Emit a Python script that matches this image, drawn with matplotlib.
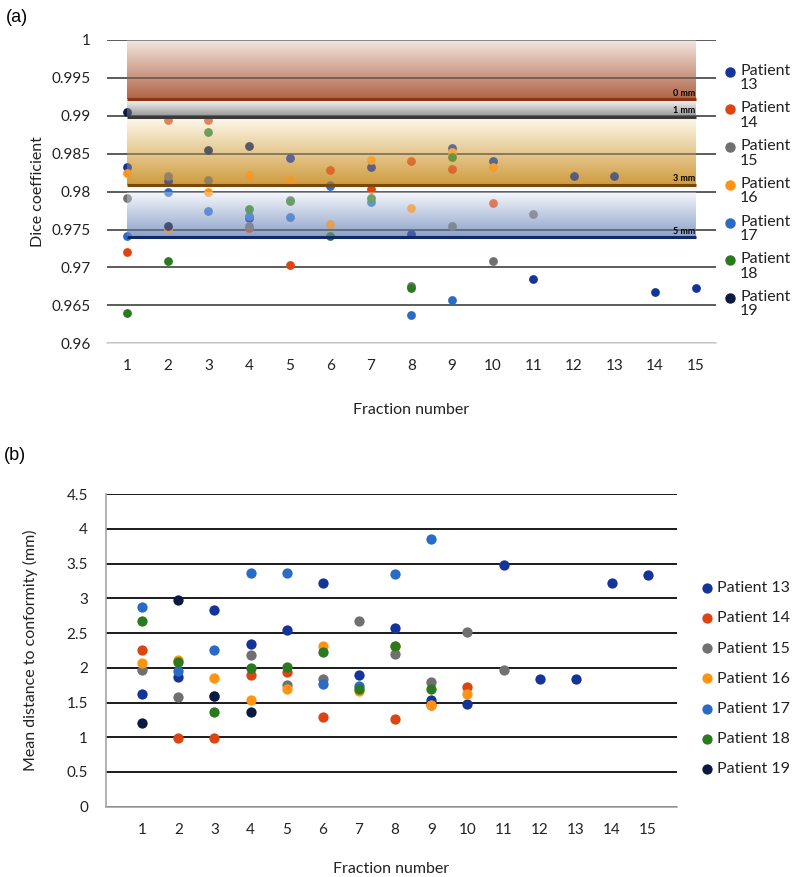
import numpy as np
import matplotlib.pyplot as plt
from matplotlib.colors import to_rgb

plt.rcParams['font.family'] = ['Lato', 'DejaVu Sans']

nan = np.nan
fractions = np.arange(1, 16)
patients = ['13', '14', '15', '16', '17', '18', '19']
colors = ['#15349a', '#dc4512', '#707070', '#ff9412', '#2a6bc6', '#2b7a1f', '#0b1a45']

# (a) Dice coefficient per fraction
dice_13 = [0.9832, 0.9814, nan, 0.9765, 0.9845, nan, 0.9833, 0.9744, 0.9857, 0.9840, 0.9685, 0.9821, 0.9821, 0.9667, 0.9673]
dice_14 = [0.9720, 0.9895, 0.9895, 0.9752, 0.9703, 0.9828, 0.9803, 0.9840, 0.9830, 0.9785, nan, nan, nan, nan, nan]
dice_15 = [0.9792, 0.9820, 0.9815, 0.9755, 0.9789, 0.9809, nan, 0.9675, 0.9755, 0.9709, 0.9770, nan, nan, nan, nan]
dice_16 = [0.9824, 0.9751, 0.9800, 0.9822, 0.9815, 0.9757, 0.9842, 0.9779, 0.9852, 0.9833, nan, nan, nan, nan, nan]
dice_17 = [0.9741, 0.9800, 0.9774, 0.9768, 0.9767, 0.9807, 0.9786, 0.9637, 0.9657, nan, nan, nan, nan, nan, nan]
dice_18 = [0.9640, 0.9709, 0.9879, 0.9777, 0.9787, 0.9741, 0.9791, 0.9673, 0.9846, nan, nan, nan, nan, nan, nan]
dice_19 = [0.9905, 0.9755, 0.9855, 0.9860, nan, nan, nan, nan, nan, nan, nan, nan, nan, nan, nan]
dice = [dice_13, dice_14, dice_15, dice_16, dice_17, dice_18, dice_19]

# (b) mean distance to conformity (mm)
dist_13 = [1.62, 1.87, 2.83, 2.34, 2.55, 3.22, 1.90, 2.57, 1.54, 1.48, 3.48, 1.84, 1.84, 3.22, 3.34]
dist_14 = [2.25, 0.99, 0.99, 1.90, 1.94, 1.29, nan, 1.26, 1.47, 1.72, nan, nan, nan, nan, nan]
dist_15 = [1.97, 1.58, 1.60, 2.19, 1.75, 1.84, 2.68, 2.20, 1.79, 2.52, 1.97, nan, nan, nan, nan]
dist_16 = [2.07, 2.11, 1.85, 1.54, 1.69, 2.32, 1.67, 2.32, 1.46, 1.63, nan, nan, nan, nan, nan]
dist_17 = [2.87, 1.95, 2.25, 3.37, 3.37, 1.77, 1.74, 3.35, 3.85, nan, nan, nan, nan, nan, nan]
dist_18 = [2.68, 2.08, 1.37, 2.00, 2.01, 2.23, 1.69, 2.31, 1.70, nan, nan, nan, nan, nan, nan]
dist_19 = [1.21, 2.98, 1.59, 1.37, nan, nan, nan, nan, nan, nan, nan, nan, nan, nan, nan]
dist = [dist_13, dist_14, dist_15, dist_16, dist_17, dist_18, dist_19]

# tolerance bands drawn on (a)
band_names = ['0 mm', '1 mm', '3 mm', '5 mm']
band_top = [1.0, 0.9921, 0.9897, 0.9799]
band_bottom = [0.9922, 0.9899, 0.9809, 0.9740]
band_light = ['#f4e8e2', '#f6f6f6', '#fdf8ea', '#f5f7fb']
band_dark = ['#b06548', '#929292', '#d09c3e', '#8ca1ca']
band_line = ['#8a3414', '#3a3a3a', '#7a4808', '#0f2a66']

dice_ticks = [0.96, 0.965, 0.97, 0.975, 0.98, 0.985, 0.99, 0.995, 1.0]
dice_labels = ['0.96', '0.965', '0.97', '0.975', '0.98', '0.985', '0.99', '0.995', '1']
dist_ticks = [0, 0.5, 1, 1.5, 2, 2.5, 3, 3.5, 4, 4.5]
dist_labels = ['0', '0.5', '1', '1.5', '2', '2.5', '3', '3.5', '4', '4.5']

text_col = '#222222'

fig = plt.figure(figsize=(7.96, 8.77), dpi=100)
ax1 = fig.add_axes([0.1344, 0.6086, 0.7651, 0.3458])
ax2 = fig.add_axes([0.1332, 0.0802, 0.7173, 0.3562])


def gradient(ax, y0, y1, c_top, c_bot, alpha, z):
    t = np.linspace(0, 1, 80)[:, None]
    top, bot = np.array(to_rgb(c_top)), np.array(to_rgb(c_bot))
    img = (top + (bot - top) * t)[:, None, :]
    ax.imshow(img, extent=[1, 15, y1, y0], origin='upper', aspect='auto',
              alpha=alpha, zorder=z, interpolation='bilinear')


# ---- panel (a)
for i in range(len(band_names)):
    gradient(ax1, band_top[i], band_bottom[i], band_light[i], band_dark[i], 1.0, 0)
    gradient(ax1, band_top[i], band_bottom[i], band_light[i], band_dark[i], 0.35, 4)
    ax1.hlines(band_bottom[i], 1, 15, color=band_line[i], lw=2.2, zorder=5)
    ax1.text(15, band_bottom[i] + 0.0002, band_names[i], ha='right', va='bottom',
             fontsize=6.5, fontweight='bold', color='black', zorder=6)

for vals, c in zip(dice, colors):
    ax1.scatter(fractions, vals, s=40, color=c, zorder=3, linewidths=0)

ax1.set_xlim(0.5, 15.5)
ax1.set_ylim(0.96, 1.0)
ax1.set_yticks(dice_ticks)
ax1.set_yticklabels(dice_labels)
ax1.set_xticks(fractions)
ax1.grid(axis='y', color='#303030', lw=1.1, zorder=1.5)
ax1.set_axisbelow('line')
for s in ['left', 'right', 'top']:
    ax1.spines[s].set_visible(False)
ax1.spines['bottom'].set_color('#d9d9d9')
ax1.spines['bottom'].set_linewidth(1.2)
ax1.tick_params(axis='both', length=0, labelsize=11, colors=text_col)
ax1.tick_params(axis='y', pad=12)
ax1.tick_params(axis='x', pad=11)
ax1.set_ylabel('Dice coefficient', fontsize=11.5, color=text_col)
ax1.yaxis.set_label_coords(-0.102, 0.5)
ax1.set_xlabel('Fraction number', fontsize=11.5, color=text_col, labelpad=22)

# legend of (a): label wraps after "Patient"
for i, (p, c) in enumerate(zip(patients, colors)):
    y = 1 - (71.7 + 37.7 * i) / 877
    fig.add_artist(plt.Line2D([730 / 796], [y], marker='o', ms=6.5, color=c,
                              mec=c, ls='none'))
    fig.text(740 / 796, y + 8 / 877, 'Patient\n' + p, fontsize=11.5, va='top',
             color=text_col, linespacing=1.05)

# ---- panel (b)
for vals, c, p in zip(dist, colors, patients):
    ax2.scatter(fractions, vals, s=55, color=c, zorder=3, linewidths=0,
                label='Patient ' + p)

ax2.set_xlim(0, 15.8)
ax2.set_ylim(0, 4.5)
ax2.set_yticks(dist_ticks)
ax2.set_yticklabels(dist_labels)
ax2.set_xticks(fractions)
ax2.grid(axis='y', color='#1a1a1a', lw=1.4)
ax2.set_axisbelow(True)
for s in ['right', 'top']:
    ax2.spines[s].set_visible(False)
for s in ['left', 'bottom']:
    ax2.spines[s].set_color('#a6a6a6')
    ax2.spines[s].set_linewidth(1.2)
ax2.tick_params(axis='both', length=0, labelsize=11, colors=text_col)
ax2.tick_params(axis='y', pad=13)
ax2.tick_params(axis='x', pad=12)
ax2.set_ylabel('Mean distance to conformity (mm)', fontsize=11.5, color=text_col)
ax2.yaxis.set_label_coords(-0.119, 0.5)
ax2.set_xlabel('Fraction number', fontsize=11.5, color=text_col, labelpad=18)
ax2.legend(loc='center left', bbox_to_anchor=(1.0, 0.41), frameon=False,
           fontsize=11.5, handletextpad=0.1, labelspacing=1.0, borderaxespad=1.0,
           markerscale=1.0, handlelength=1.0, labelcolor=text_col)

fig.text(0.008, 1 - 18 / 877, '(a)', fontsize=13, va='center', family='Liberation Sans')
fig.text(0.005, 1 - 455 / 877, '(b)', fontsize=13, va='center', family='Liberation Sans')

fig.savefig('out.png', dpi=100)
